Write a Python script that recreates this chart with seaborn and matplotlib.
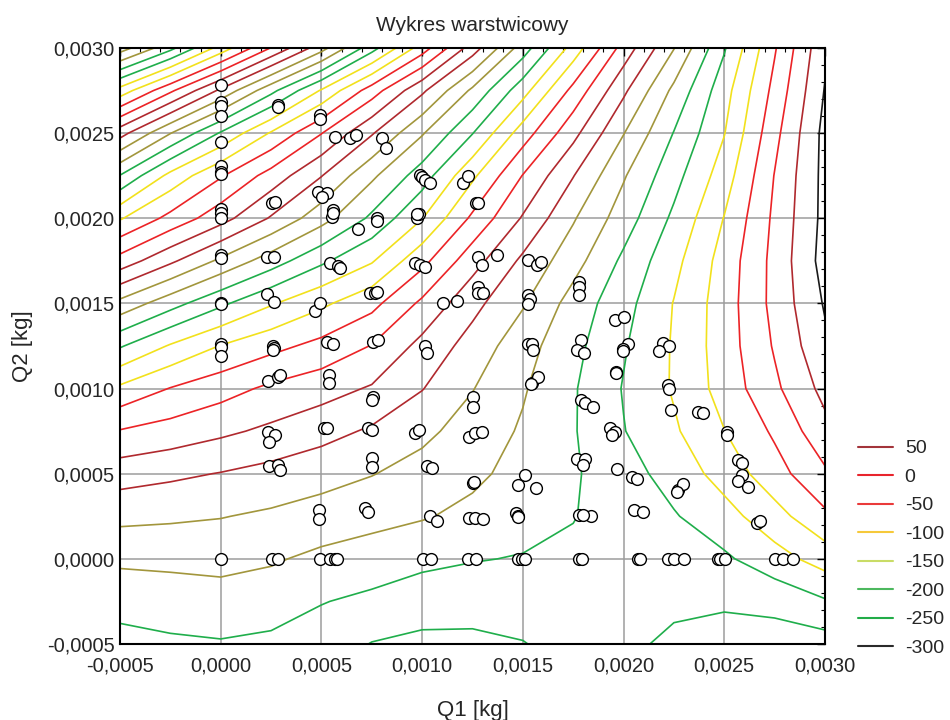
# Wykres warstwicowy Q1/Q2 z punktami pomiarowymi
import numpy as np
import seaborn as sns
import matplotlib
matplotlib.use("Agg")
import matplotlib.pyplot as plt
from matplotlib.lines import Line2D
from matplotlib.ticker import FuncFormatter, MultipleLocator

# wezly siatki [g] (os w kg = g / 1000)
q1_nodes_g = [-0.5, -0.25, 0.0, 0.25, 0.5, 0.75, 1.0, 1.25, 1.5, 1.75, 2.0, 2.25, 2.5, 2.75, 3.0]
q2_nodes_g = [-0.5, -0.25, 0.0, 0.25, 0.5, 0.75, 1.0, 1.25, 1.5, 1.75, 2.0, 2.25, 2.5, 2.75, 3.0]

# wartosci powierzchni, jeden wiersz na kazde Q2
z_m0050 = [-235, -242, -246, -240, -228, -198, -190, -190, -198, -218, -239, -260, -265, -275, -272]
z_m0025 = [-266, -274, -280, -272, -252, -240, -220, -218, -222, -225, -232, -240, -245, -234, -205]
z_0000 = [-310, -312, -315, -306, -288, -275, -264, -253, -247, -240, -232, -218, -208, -170, -128]
z_0025 = [-363, -358, -352, -342, -330, -317, -304, -288, -270, -252, -228, -204, -169, -119, -60]
z_0050 = [-422, -410, -398, -384, -368, -352, -332, -310, -284, -256, -220, -180, -130, -70, -8]
z_0075 = [-497, -480, -460, -440, -418, -393, -362, -329, -294, -254, -202, -157, -101, -42, 35]
z_0100 = [-590, -548, -520, -490, -470, -445, -402, -352, -305, -255, -197, -145, -80, -10, 65]
z_0125 = [-705, -645, -598, -565, -535, -498, -435, -380, -320, -265, -205, -145, -75, 5, 90]
z_0150 = [-835, -770, -710, -655, -610, -565, -490, -415, -355, -280, -218, -148, -75, 15, 105]
z_0175 = [-980, -910, -840, -775, -710, -655, -565, -470, -390, -320, -240, -165, -80, 15, 120]
z_0200 = [-1105, -1035, -970, -895, -820, -740, -652, -540, -445, -355, -275, -190, -98, 10, 115]
z_0225 = [-1248, -1135, -1055, -980, -902, -810, -725, -610, -498, -402, -305, -218, -125, 2, 115]
z_0250 = [-1420, -1302, -1195, -1095, -1002, -905, -805, -702, -575, -465, -352, -248, -152, -15, 115]
z_0275 = [-1630, -1510, -1390, -1265, -1145, -1025, -910, -790, -670, -535, -410, -288, -170, -35, 103]
z_0300 = [-1875, -1765, -1630, -1498, -1370, -1220, -1075, -925, -775, -630, -480, -352, -205, -55, 90]

# punkty pomiarowe [g]
q1_pts_g = [
    0.0, 0.0, 0.0, 0.0, 0.0, 0.0, 0.0, 0.0, 0.0, 0.0, 0.0, 0.0, 0.0, 0.0, 0.0, 0.0, 0.0, 0.0, 0.0,
    0.283, 0.283, 0.253, 0.268, 0.228, 0.263, 0.228, 0.263, 0.258, 0.263, 0.258, 0.233, 0.283, 0.293,
    0.233, 0.268, 0.238, 0.238, 0.283, 0.293, 0.253, 0.283,
    0.492, 0.492, 0.566, 0.641, 0.670, 0.482, 0.526, 0.501, 0.556, 0.551, 0.556, 0.680, 0.541, 0.581,
    0.591, 0.467, 0.492, 0.526, 0.556, 0.536, 0.536, 0.511, 0.526, 0.487, 0.487, 0.492, 0.541, 0.566, 0.576,
    0.799, 0.819, 0.775, 0.775, 0.740, 0.765, 0.775, 0.755, 0.780, 0.755, 0.750, 0.730, 0.750, 0.750,
    0.750, 0.715, 0.730,
    0.988, 0.998, 1.013, 1.038, 0.973, 0.983, 0.973, 1.202, 1.226, 1.266, 1.276, 0.963, 0.988, 1.013,
    1.102, 1.172, 1.013, 1.023, 1.276, 1.296, 1.370, 1.276, 1.276, 1.301, 1.251, 1.251, 0.963, 0.983,
    1.023, 1.048, 1.251, 1.256, 1.038, 1.072, 1.231, 1.261, 1.301, 1.231, 1.261, 1.296, 1.003, 1.043,
    1.226, 1.266,
    1.524, 1.569, 1.589, 1.524, 1.534, 1.524, 1.524, 1.544, 1.549, 1.544, 1.574, 1.539, 1.509, 1.475,
    1.564, 1.465, 1.475, 1.475, 1.475, 1.495, 1.509,
    1.778, 1.778, 1.778, 1.956, 2.001, 1.788, 1.768, 1.802, 2.021, 1.996, 1.996, 1.961, 1.961, 1.788,
    1.807, 1.847, 1.931, 1.956, 1.941, 1.966, 1.768, 1.807, 1.797, 1.778, 1.837, 1.797, 2.041, 2.066,
    2.051, 2.096, 1.778, 1.793, 2.071, 2.081,
    2.195, 2.224, 2.175, 2.219, 2.224, 2.234, 2.368, 2.393, 2.269, 2.294, 2.264, 2.219, 2.249, 2.299,
    2.512, 2.512, 2.567, 2.587, 2.587, 2.567, 2.617, 2.661, 2.676, 2.468, 2.478, 2.503, 2.751, 2.790,
    2.840,
]
q2_pts_g = [
    2.785, 2.685, 2.661, 2.602, 2.450, 2.309, 2.274, 2.262, 2.057, 2.033, 2.004, 1.786, 1.769, 1.504,
    1.498, 1.264, 1.246, 1.193, 0.0,
    2.667, 2.655, 2.092, 2.098, 1.775, 1.775, 1.557, 1.510, 1.252, 1.240, 1.228, 1.047, 1.070, 1.082,
    0.747, 0.729, 0.688, 0.547, 0.553, 0.524, 0.0, 0.0,
    2.608, 2.585, 2.479, 2.473, 2.491, 2.156, 2.150, 2.127, 2.051, 2.010, 2.033, 1.934, 1.740, 1.722,
    1.710, 1.457, 1.504, 1.275, 1.264, 1.082, 1.035, 0.770, 0.770, 0.289, 0.236, 0.0, 0.0, 0.0, 0.0,
    2.473, 2.415, 2.004, 1.981, 1.563, 1.563, 1.569, 1.275, 1.287, 0.952, 0.935, 0.770, 0.759, 0.594,
    0.541, 0.301, 0.277,
    2.256, 2.245, 2.227, 2.209, 2.004, 2.027, 2.022, 2.209, 2.250, 2.092, 2.092, 1.740, 1.728, 1.716,
    1.504, 1.516, 1.252, 1.211, 1.775, 1.728, 1.786, 1.598, 1.563, 1.563, 0.952, 0.893, 0.741, 0.759,
    0.547, 0.535, 0.448, 0.454, 0.254, 0.224, 0.242, 0.242, 0.236, 0.718, 0.741, 0.747, 0.0, 0.0,
    0.0, 0.0,
    1.757, 1.728, 1.745, 1.551, 1.528, 1.498, 1.264, 1.264, 1.228, 1.035, 1.070, 1.029, 0.494, 0.436,
    0.418, 0.271, 0.254, 0.248, 0.0, 0.0, 0.0,
    1.628, 1.598, 1.551, 1.405, 1.422, 1.287, 1.228, 1.211, 1.264, 1.234, 1.222, 1.099, 1.093, 0.935,
    0.917, 0.893, 0.770, 0.747, 0.729, 0.530, 0.588, 0.588, 0.553, 0.260, 0.254, 0.260, 0.483, 0.471,
    0.289, 0.277, 0.0, 0.0, 0.0, 0.0,
    1.270, 1.252, 1.222, 1.023, 1.000, 0.876, 0.864, 0.858, 0.406, 0.442, 0.395, 0.0, 0.0, 0.0,
    0.747, 0.729, 0.583, 0.565, 0.494, 0.459, 0.424, 0.213, 0.224, 0.0, 0.0, 0.0, 0.0, 0.0,
    0.0,
]

legend_levels = [50, 0, -50, -100, -150, -200, -250, -300]
# kolory probek w legendzie (jasniejsze niz linie na wykresie)
legend_colors = ['#a3343a', '#e8242c', '#ea3a3a', '#f6c93a', '#c9dc66', '#4cb85e', '#22ac48', '#2a2a2a']

# kolory warstwic (STATISTICA powtarza je cyklicznie)
c_green = '#1fae4b'
c_yellow = '#f2e11c'
c_red = '#ec2326'
c_darkred = '#b0292e'
c_olive = '#a2963c'
cycle = [c_green, c_green, c_yellow, c_yellow, c_red, c_red, c_darkred, c_darkred, c_olive, c_olive]


def level_color(lev):
    if lev >= 100:
        return '#1a1a1a'
    return cycle[int(round((lev + 250) / 50)) % 10]


sns.set_theme(style="white")
plt.rcParams['font.family'] = ['Liberation Sans', 'DejaVu Sans']

q1 = np.array(q1_nodes_g) / 1000
q2 = np.array(q2_nodes_g) / 1000
Z = np.array([z_m0050, z_m0025, z_0000, z_0025, z_0050, z_0075, z_0100, z_0125, z_0150,
              z_0175, z_0200, z_0225, z_0250, z_0275, z_0300])
levels = np.arange(-1850, 101, 50)

fig = plt.figure(figsize=(9.5, 7.2), dpi=100)
ax = fig.add_axes([0.1263, 0.1056, 0.7421, 0.8278])

ax.grid(True, color='#9c9c9c', linewidth=1.1)
ax.set_axisbelow(True)
ax.contour(q1, q2, Z, levels=levels, colors=[level_color(l) for l in levels], linewidths=1.2, zorder=2)

sns.scatterplot(x=np.array(q1_pts_g) / 1000, y=np.array(q2_pts_g) / 1000, ax=ax, s=72,
                color='white', edgecolor='black', linewidth=1.0, zorder=5, legend=False)

ax.set_xlim(-0.0005, 0.003)
ax.set_ylim(-0.0005, 0.003)
fmt = FuncFormatter(lambda v, p: ("%.4f" % (0.0 if abs(v) < 1e-9 else v)).replace('.', ','))
ax.xaxis.set_major_formatter(fmt)
ax.yaxis.set_major_formatter(fmt)
ax.xaxis.set_major_locator(MultipleLocator(0.0005))
ax.yaxis.set_major_locator(MultipleLocator(0.0005))
ax.xaxis.set_minor_locator(MultipleLocator(0.0001))
ax.yaxis.set_minor_locator(MultipleLocator(0.0001))
ax.tick_params(which='both', direction='in', top=True, right=True, color='black')
ax.tick_params(which='major', length=6, width=1.0, labelsize=14.5)
ax.tick_params(which='minor', length=3, width=0.8)
ax.tick_params(axis='x', which='major', pad=9)
ax.tick_params(axis='y', which='major', pad=4)
for sp in ax.spines.values():
    sp.set_color('black')
    sp.set_linewidth(1.5)

ax.set_title('Wykres warstwicowy', fontsize=15, pad=12)
ax.set_xlabel('Q1 [kg]', fontsize=16, labelpad=18)
ax.set_ylabel('Q2 [kg]', fontsize=16, labelpad=10)

handles = [Line2D([0], [0], color=c, lw=1.5) for c in legend_colors]
fig.legend(handles, [str(l) for l in legend_levels], loc='lower left',
           bbox_to_anchor=(0.893, 0.074), frameon=False, fontsize=14,
           handlelength=1.8, handletextpad=0.6, labelspacing=0.56, borderpad=0)

fig.savefig('out.png', dpi=100)
